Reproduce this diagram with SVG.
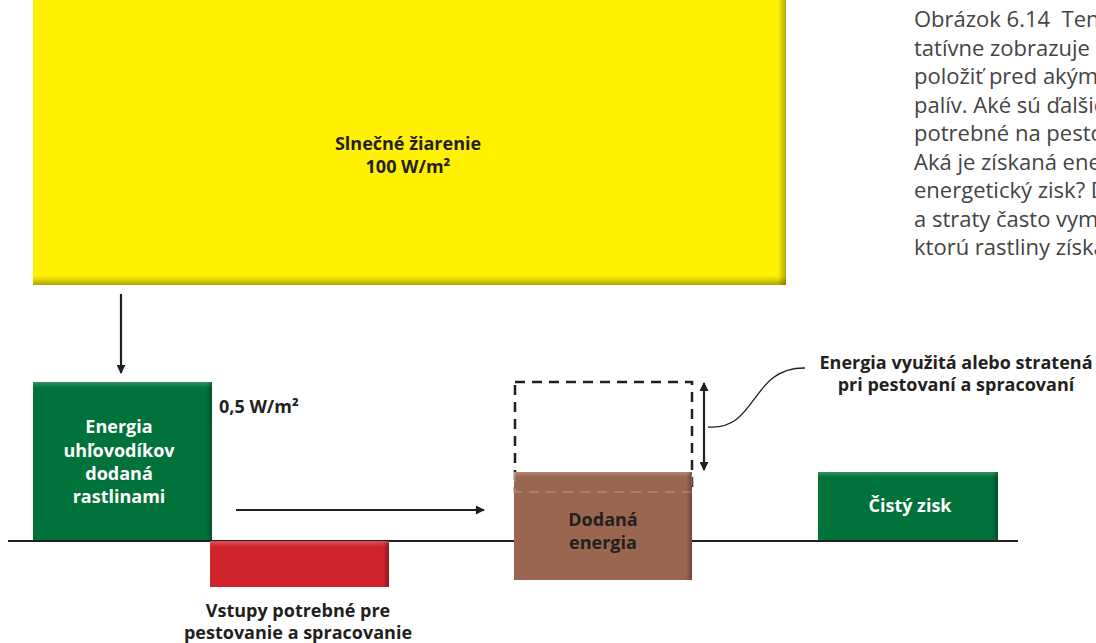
<svg xmlns="http://www.w3.org/2000/svg" width="1096" height="643" viewBox="0 0 1096 643">
<style>
.lbl{font-family:"Open Sans","Noto Sans","Liberation Sans",sans-serif;font-weight:700;font-size:18px;fill:#231f20;text-anchor:middle}
.wht{fill:#ffffff}
.para{font-family:"Open Sans","Noto Sans","Liberation Sans",sans-serif;font-weight:400;font-size:22px;fill:#444444}
.ln{stroke:#231f20;stroke-width:2.2;fill:none}
</style>
<defs>
<linearGradient id="shB" x1="0" y1="0" x2="0" y2="1"><stop offset="0" stop-color="#000" stop-opacity="0"/><stop offset="1" stop-color="#000" stop-opacity="0.32"/></linearGradient>
<linearGradient id="shR" x1="0" y1="0" x2="1" y2="0"><stop offset="0" stop-color="#000" stop-opacity="0"/><stop offset="1" stop-color="#000" stop-opacity="0.3"/></linearGradient>
<linearGradient id="hiT" x1="0" y1="0" x2="0" y2="1"><stop offset="0" stop-color="#fff" stop-opacity="0.22"/><stop offset="1" stop-color="#fff" stop-opacity="0"/></linearGradient>
<marker id="ah" viewBox="0 0 10 10" refX="9" refY="5" markerUnits="userSpaceOnUse" markerWidth="10" markerHeight="9" orient="auto-start-reverse"><path d="M0,0 L10,5 L0,10 z" fill="#231f20"/></marker>
</defs>

<rect width="1096" height="643" fill="#ffffff"/>

<g id="paragraph">
<text class="para" x="914" y="27">Obrázok 6.14&#160; Ten</text>
<text class="para" x="914" y="55.5">tatívne zobrazuje e</text>
<text class="para" x="914" y="84">položiť pred akým</text>
<text class="para" x="914" y="112.5">palív. Aké sú ďalšie</text>
<text class="para" x="914" y="141">potrebné na pesto</text>
<text class="para" x="914" y="169.5">Aká je získaná ene</text>
<text class="para" x="914" y="198">energetický zisk? D</text>
<text class="para" x="914" y="226.5">a straty často vyma</text>
<text class="para" x="914" y="255">ktorú rastliny získa</text>
</g>

<line id="baseline" class="ln" x1="8" y1="541" x2="1018" y2="541" stroke-width="2.5"/>

<g id="slnecne-ziarenie">
<rect x="33" y="0" width="753" height="285" fill="#fff100"/>
<rect x="33" y="276" width="753" height="9" fill="url(#shB)"/>
<rect x="778" y="0" width="8" height="285" fill="url(#shR)"/>
<text class="lbl" x="408" y="150">Slnečné žiarenie</text>
<text class="lbl" x="408" y="173">100 W/m²</text>
</g>

<g id="energia-uhlovodikov">
<rect x="33" y="382" width="179" height="158" fill="#00723a"/>
<rect x="33" y="382" width="179" height="6" fill="url(#hiT)"/>
<rect x="206" y="382" width="6" height="158" fill="url(#shR)"/>
<text class="lbl wht" x="119" y="433">Energia</text>
<text class="lbl wht" x="119" y="456.5">uhľovodíkov</text>
<text class="lbl wht" x="119" y="480">dodaná</text>
<text class="lbl wht" x="119" y="503">rastlinami</text>
</g>

<g id="hodnota">
<text class="lbl" x="219" y="413" style="text-anchor:start">0,5 W/m²</text>
</g>

<g id="vstupy">
<rect x="210" y="541" width="179" height="46" fill="#d0232a"/>
<rect x="210" y="541" width="179" height="6" fill="url(#hiT)"/>
<rect x="383" y="541" width="6" height="46" fill="url(#shR)"/>
<text class="lbl" x="298" y="617">Vstupy potrebné pre</text>
<text class="lbl" x="298" y="639">pestovanie a spracovanie</text>
</g>

<g id="stratena">
<rect x="515" y="382" width="177" height="110" fill="none" stroke="#231f20" stroke-width="2.5" stroke-dasharray="10 7"/>
<text class="lbl" x="956" y="369">Energia využitá alebo stratená</text>
<text class="lbl" x="956" y="391">pri pestovaní a spracovaní</text>
</g>

<g id="dodana-energia">
<rect x="514" y="472" width="178" height="108" fill="#9b6650"/>
<rect x="514" y="472" width="178" height="5" fill="url(#hiT)"/>
<rect x="686" y="472" width="6" height="108" fill="url(#shR)"/>
<path d="M515,472 V492 H692 V472" fill="none" stroke="#ffffff" stroke-opacity="0.22" stroke-width="1.5" stroke-dasharray="10 7"/>
<text class="lbl" x="603" y="526">Dodaná</text>
<text class="lbl" x="603" y="549">energia</text>
</g>

<g id="cisty-zisk">
<rect x="818" y="472" width="180" height="68" fill="#00723a"/>
<rect x="818" y="472" width="180" height="5" fill="url(#hiT)"/>
<rect x="992" y="472" width="6" height="68" fill="url(#shR)"/>
<text class="lbl wht" x="910" y="512">Čistý zisk</text>
</g>

<g id="connectors">
<line class="ln" x1="121" y1="294" x2="121" y2="373" marker-end="url(#ah)"/>
<line class="ln" x1="236" y1="510" x2="484" y2="510" marker-end="url(#ah)"/>
<line class="ln" x1="704" y1="383" x2="704" y2="470" marker-start="url(#ah)" marker-end="url(#ah)"/>
<path d="M708,427 C758,431 750,367 805,368" fill="none" stroke="#231f20" stroke-width="1.3"/>
</g>
</svg>
